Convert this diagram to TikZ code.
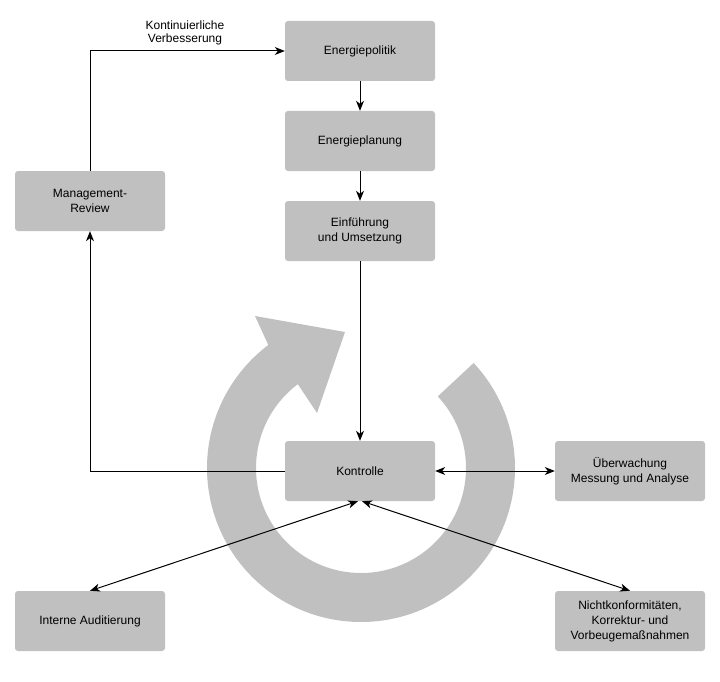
\documentclass[tikz,border=0pt]{standalone}
\usepackage{fontspec}
\setmainfont{Liberation Sans}
\usetikzlibrary{arrows.meta,calc}
\definecolor{boxgray}{HTML}{C0C0C0}
\begin{document}
\begin{tikzpicture}[x=1pt,y=-1pt,
  box/.style={fill=boxgray,rounded corners=3pt,minimum width=150pt,minimum height=60pt,
    inner sep=0pt,align=center,font=\fontsize{12pt}{15pt}\selectfont},
  conn/.style={line width=1pt,draw=black},
  tip/.style={-{Stealth[length=10pt,width=8pt,inset=3pt]}},
  tips/.style={{Stealth[length=10pt,width=8pt,inset=3pt]}-{Stealth[length=10pt,width=8pt,inset=3pt]}}]
\useasboundingbox (0,0) rectangle (720,682);
% ring arrow
\begin{scope}[shift={(361,468)},y=1pt]
  \fill[boxgray] (43:154) arc[start angle=43,end angle=-233,radius=154]
    -- (-106,152) -- (-16,136) -- (-44,55)
    -- (-233:105) arc[start angle=-233,end angle=43,radius=105] -- cycle;
\end{scope}
% boxes
\node[box] (pol) at (360,51) {Energiepolitik};
\node[box] (plan) at (360,141) {Energieplanung};
\node[box] (ein) at (360,231) {Einführung\\und Umsetzung};
\node[box] (man) at (90,201) {Management-\\Review};
\node[box] (kon) at (360,471) {Kontrolle};
\node[box] (ueb) at (630,471) {Überwachung\\Messung und Analyse};
\node[box] (int) at (90,621) {Interne Auditierung};
\node[box] (nic) at (630,621) {Nichtkonformitäten,\\Korrektur- und\\Vorbeugemaßnahmen};
% connectors
\coordinate (c1) at (90,51);
\coordinate (c2) at (90,471);
\draw[conn,tip] (man.north) -- (c1) -- (pol.west);
\node[font=\fontsize{12pt}{13pt}\selectfont,align=center] (lbl) at (185,33) {Kontinuierliche\\Verbesserung};
\draw[conn,tip] (pol.south) -- (plan.north);
\draw[conn,tip] (plan.south) -- (ein.north);
\draw[conn,tip] (ein.south) -- (kon.north);
\draw[conn,tip] (kon.west) -- (c2) -- (man.south);
\draw[conn,tips] (kon.east) -- (ueb.west);
\coordinate (kl) at ($(kon.south)+(-2,0)$);
\coordinate (kr) at ($(kon.south)+(2,0)$);
\draw[conn,tips] (kl) -- (int.north);
\draw[conn,tips] (kr) -- (nic.north);
\end{tikzpicture}
\end{document}
